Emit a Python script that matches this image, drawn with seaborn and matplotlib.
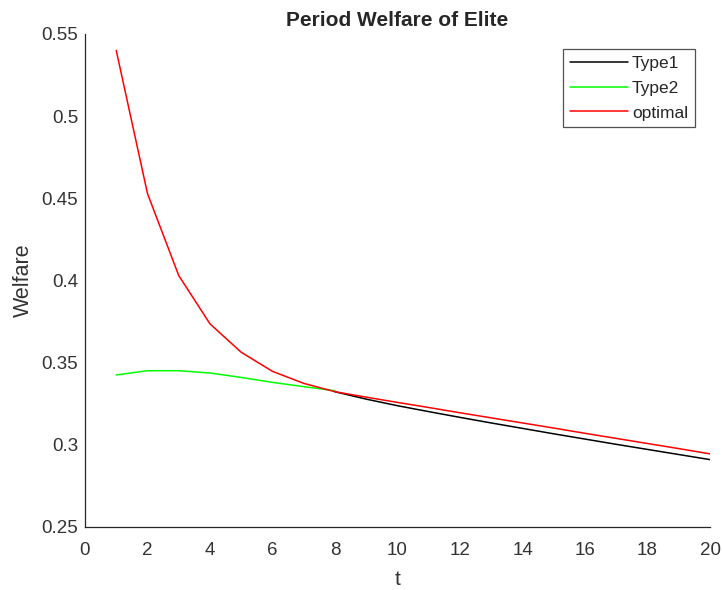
"""
Period welfare of the elite, three policy paths.
"""
import matplotlib
matplotlib.use("Agg")
import matplotlib.pyplot as plt
import pandas as pd
import seaborn as sns

# values
t_type1 = [8, 9, 10, 11, 12, 13, 14, 15, 16, 17, 18, 19, 20]
welfare_type1 = [0.3323, 0.3278, 0.3238, 0.3202, 0.3167, 0.3133, 0.3100,
                 0.3067, 0.3035, 0.3003, 0.2972, 0.2941, 0.2910]

t_type2 = [1, 2, 3, 4, 5, 6, 7, 8]
welfare_type2 = [0.3425, 0.3451, 0.3451, 0.3437, 0.3410, 0.3380, 0.3354, 0.3329]

t_optimal = list(range(1, 21))
welfare_optimal = [0.5400, 0.4529, 0.4030, 0.3736, 0.3563, 0.3447, 0.3374,
                   0.3323, 0.3290, 0.3258, 0.3227, 0.3195, 0.3164, 0.3133,
                   0.3102, 0.3070, 0.3039, 0.3008, 0.2977, 0.2945]

series_names = ["Type1", "Type2", "optimal"]
series_colors = ["#000000", "#00ff00", "#ff0000"]
x_ticks = list(range(0, 21, 2))
y_ticks = [0.25, 0.3, 0.35, 0.4, 0.45, 0.5, 0.55]

if __name__ == "__main__":
    df = pd.concat(
        [
            pd.DataFrame({"t": t_type1, "Welfare": welfare_type1, "series": "Type1"}),
            pd.DataFrame({"t": t_type2, "Welfare": welfare_type2, "series": "Type2"}),
            pd.DataFrame({"t": t_optimal, "Welfare": welfare_optimal, "series": "optimal"}),
        ],
        ignore_index=True,
    )

    sns.set_style("white")
    plt.rcParams["font.family"] = ["Liberation Sans", "DejaVu Sans"]

    fig = plt.figure(figsize=(7.22, 5.90), dpi=100)
    ax = fig.add_axes([0.1177, 0.1068, 0.8657, 0.8356])

    sns.lineplot(
        data=df,
        x="t",
        y="Welfare",
        hue="series",
        hue_order=series_names,
        palette=dict(zip(series_names, series_colors)),
        linewidth=1.1,
        ax=ax,
    )

    # MATLAB look: box off, ticks inward
    sns.despine(ax=ax)
    for side in ["left", "bottom"]:
        ax.spines[side].set_color("#262626")
        ax.spines[side].set_linewidth(0.9)
    ax.set_xlim(0, 20)
    ax.set_ylim(0.25, 0.55)
    ax.set_xticks(x_ticks)
    ax.set_yticks(y_ticks)
    ax.set_yticklabels([f"{v:g}" for v in y_ticks])
    ax.tick_params(direction="in", length=5, width=0.9, color="#262626",
                   labelsize=13.5, labelcolor="#333333")
    ax.tick_params(axis="x", pad=10.5)
    ax.tick_params(axis="y", pad=5)
    ax.set_xlabel("t", fontsize=15, color="#333333", labelpad=8.5)
    ax.set_ylabel("Welfare", fontsize=15.5, color="#333333", labelpad=5)
    ax.set_title("Period Welfare of Elite", fontsize=15, fontweight="bold", pad=6)

    leg = ax.legend(
        loc="upper right",
        bbox_to_anchor=(695 / 722, 1 - 49 / 590),
        bbox_transform=fig.transFigure,
        borderaxespad=0,
        fontsize=12.5,
        frameon=True,
        fancybox=False,
        handlelength=3.3,
        handletextpad=0.25,
        labelspacing=0.55,
        borderpad=0.4,
    )
    leg.get_frame().set_edgecolor("#262626")
    leg.get_frame().set_linewidth(0.9)

    fig.savefig("out.png", dpi=100)
